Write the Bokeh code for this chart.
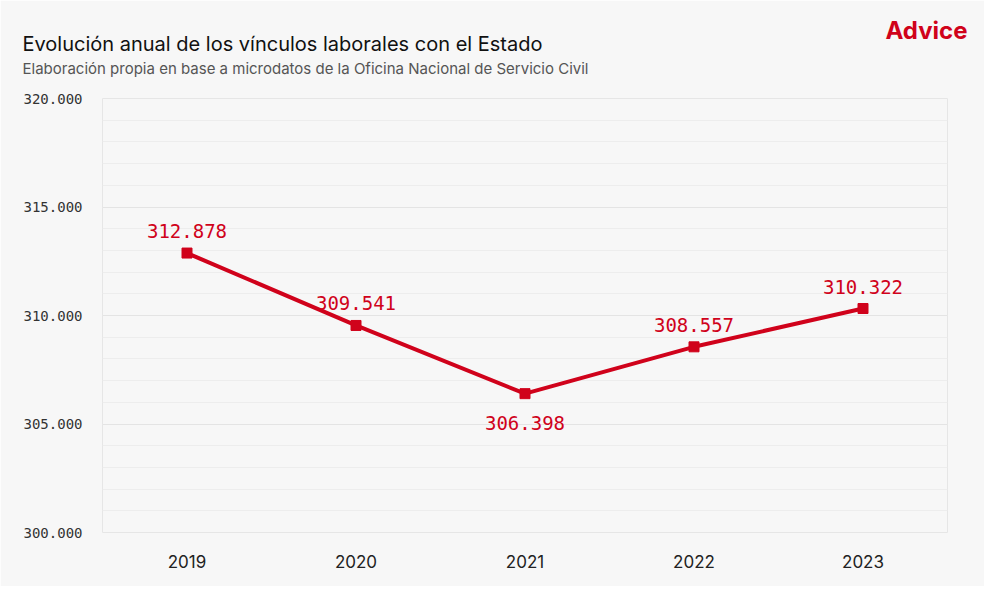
from bokeh.plotting import figure
from bokeh.models import Label, Title, FixedTicker, CustomJSTickFormatter, ColumnDataSource
from bokeh.core.properties import value
from bokeh.embed import file_html
from bokeh.resources import INLINE

years = [2019, 2020, 2021, 2022, 2023]
vinculos = [312878, 309541, 306398, 308557, 310322]
labels = ["312.878", "309.541", "306.398", "308.557", "310.322"]
label_offset = [-22, -22, 29, -22, -22]

RED = "#d0021b"
W, H = 984, 586

p = figure(width=W, height=H, output_backend="svg", toolbar_location=None,
           x_range=(2018.5, 2023.5), y_range=(300000, 320000),
           min_border_left=102, min_border_right=37, min_border_top=0, min_border_bottom=54)
p.background_fill_color = "#f7f7f7"
p.border_fill_color = "#f7f7f7"
p.outline_line_color = "#e6e6e6"

p.xaxis.ticker = FixedTicker(ticks=years)
p.yaxis.ticker = FixedTicker(ticks=[300000, 305000, 310000, 315000, 320000],
                             minor_ticks=list(range(300000, 320001, 1000)))
p.yaxis.formatter = CustomJSTickFormatter(code="return (tick/1000).toFixed(0) + '.000';")
for ax in (p.xaxis, p.yaxis):
    ax.axis_line_color = None
    ax.major_tick_line_color = None
    ax.minor_tick_line_color = None
p.yaxis.major_label_text_font = "DejaVu Sans Mono"
p.yaxis.major_label_text_font_size = "14px"
p.yaxis.major_label_text_color = "#333333"
p.yaxis.major_label_standoff = 14
p.xaxis.major_label_text_font = "Inter"
p.xaxis.major_label_text_font_size = "17px"
p.xaxis.major_label_text_color = "#222222"
p.xaxis.major_label_standoff = 16
p.xgrid.grid_line_color = None
p.ygrid.grid_line_color = "#e4e4e4"
p.ygrid.minor_grid_line_color = "#ededed"

src = ColumnDataSource(dict(x=years, y=vinculos, t=labels, off=label_offset))
p.line("x", "y", source=src, line_color=RED, line_width=4)
p.scatter("x", "y", source=src, marker="square", size=10, color=RED)
p.text("x", "y", text="t", source=src, y_offset="off", text_align="center",
       text_baseline="middle", text_font=value("DejaVu Sans Mono"),
       text_font_size="19px", text_color=RED)

p.add_layout(Title(text=" ", text_font_size="16px", standoff=0), "above")
p.add_layout(Title(text="Elaboración propia en base a microdatos de la Oficina Nacional de Servicio Civil",
                   text_font="Inter", text_font_size="15px", text_font_style="normal",
                   text_color="#555555", offset=-80, standoff=3), "above")
p.add_layout(Title(text="Evolución anual de los vínculos laborales con el Estado",
                   text_font="Inter", text_font_size="20px", text_font_style="normal",
                   text_color="#111111", offset=-80, standoff=0), "above")
p.add_layout(Label(x=967, y=30, x_units="canvas", y_units="canvas", text="Advice",
                   text_align="right", text_baseline="alphabetic", text_font="Inter",
                   text_font_style="bold", text_font_size="24px", text_color=RED), "above")

open("out.html", "w").write(file_html(p, INLINE))
